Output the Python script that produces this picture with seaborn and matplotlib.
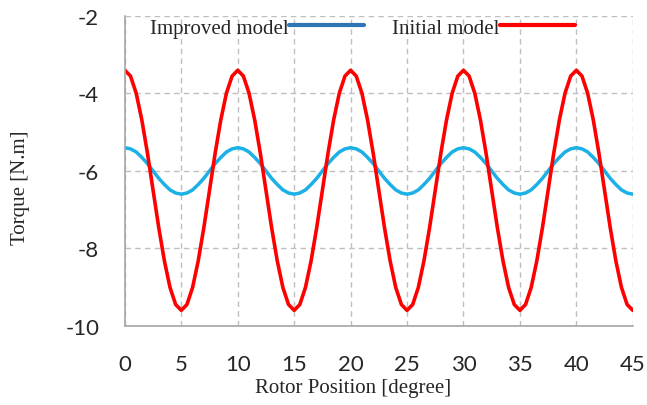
import numpy as np
import pandas as pd
import matplotlib.pyplot as plt
import seaborn as sns
from matplotlib.lines import Line2D

# rotor position in degrees, read every 0.5 deg
position = [i * 0.5 for i in range(91)]

initial_torque = [
    -3.40, -3.55, -3.99, -4.68, -5.54, -6.50, -7.46, -8.32, -9.01, -9.45,
    -9.60, -9.45, -9.01, -8.32, -7.46, -6.50, -5.54, -4.68, -3.99, -3.55,
    -3.40, -3.55, -3.99, -4.68, -5.54, -6.50, -7.46, -8.32, -9.01, -9.45,
    -9.60, -9.45, -9.01, -8.32, -7.46, -6.50, -5.54, -4.68, -3.99, -3.55,
    -3.40, -3.55, -3.99, -4.68, -5.54, -6.50, -7.46, -8.32, -9.01, -9.45,
    -9.60, -9.45, -9.01, -8.32, -7.46, -6.50, -5.54, -4.68, -3.99, -3.55,
    -3.40, -3.55, -3.99, -4.68, -5.54, -6.50, -7.46, -8.32, -9.01, -9.45,
    -9.60, -9.45, -9.01, -8.32, -7.46, -6.50, -5.54, -4.68, -3.99, -3.55,
    -3.40, -3.55, -3.99, -4.68, -5.54, -6.50, -7.46, -8.32, -9.01, -9.45,
    -9.60,
]

improved_torque = [
    -5.40, -5.43, -5.51, -5.65, -5.81, -6.00, -6.19, -6.35, -6.49, -6.57,
    -6.60, -6.57, -6.49, -6.35, -6.19, -6.00, -5.81, -5.65, -5.51, -5.43,
    -5.40, -5.43, -5.51, -5.65, -5.81, -6.00, -6.19, -6.35, -6.49, -6.57,
    -6.60, -6.57, -6.49, -6.35, -6.19, -6.00, -5.81, -5.65, -5.51, -5.43,
    -5.40, -5.43, -5.51, -5.65, -5.81, -6.00, -6.19, -6.35, -6.49, -6.57,
    -6.60, -6.57, -6.49, -6.35, -6.19, -6.00, -5.81, -5.65, -5.51, -5.43,
    -5.40, -5.43, -5.51, -5.65, -5.81, -6.00, -6.19, -6.35, -6.49, -6.57,
    -6.60, -6.57, -6.49, -6.35, -6.19, -6.00, -5.81, -5.65, -5.51, -5.43,
    -5.40, -5.43, -5.51, -5.65, -5.81, -6.00, -6.19, -6.35, -6.49, -6.57,
    -6.60,
]

x_ticks = [0, 5, 10, 15, 20, 25, 30, 35, 40, 45]
y_ticks = [-10, -8, -6, -4, -2]

df = pd.DataFrame({'pos': position, 'initial': initial_torque, 'improved': improved_torque})

sns.set_style('white')
plt.rcParams['font.family'] = ['Lato', 'DejaVu Sans']

fig = plt.figure(figsize=(6.47, 4.06), dpi=100)
ax = fig.add_axes([0.193, 0.195, 0.785, 0.763])

sns.lineplot(data=df, x='pos', y='improved', color='#1BB0E6', linewidth=2.5, ax=ax)
sns.lineplot(data=df, x='pos', y='initial', color='#FF0000', linewidth=2.6, ax=ax)

ax.set_xlim(0, 45)
ax.set_ylim(-10, -2)
ax.set_xticks(x_ticks)
ax.set_yticks(y_ticks)
ax.set_xticklabels([str(v) for v in x_ticks], fontsize=16)
ax.set_yticklabels([str(v) for v in y_ticks], fontsize=16)
ax.tick_params(axis='x', length=0, pad=20)
ax.tick_params(axis='y', length=0, pad=18.5)

ax.grid(True, color='#BFBFBF', linestyle=(0, (4, 3)), linewidth=1)
for side in ['top', 'right']:
    ax.spines[side].set_visible(False)
for side in ['left', 'bottom']:
    ax.spines[side].set_color('#A6A6A6')
    ax.spines[side].set_linewidth(1.2)

ax.set_xlabel('Rotor Position [degree]', family='Liberation Serif', fontsize=15)
ax.set_ylabel('Torque [N.m]', family='Liberation Serif', fontsize=15)
ax.xaxis.set_label_coords(0.45, -0.2)
ax.yaxis.set_label_coords(-0.205, 0.448)
ax.xaxis.label.set_verticalalignment('center')
ax.yaxis.label.set_verticalalignment('center')

handles = [Line2D([], [], color='#2E75B6', linewidth=3),
           Line2D([], [], color='#FF0000', linewidth=3)]
ax.legend(handles, ['Improved model', 'Initial model'], ncol=2, frameon=False,
          markerfirst=False, loc='center left', bbox_to_anchor=(0.049, 0.962),
          borderpad=0, borderaxespad=0,
          prop={'family': 'Liberation Serif', 'size': 15}, handlelength=3.6,
          handletextpad=0.05, columnspacing=1.3)

fig.savefig('out.png', dpi=100)
